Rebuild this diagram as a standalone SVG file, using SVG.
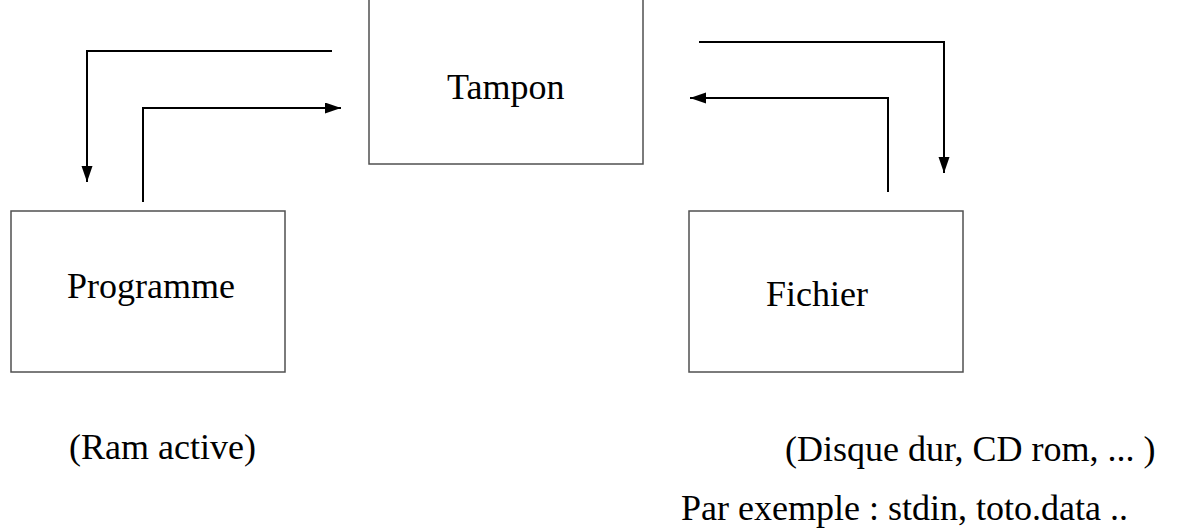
<svg xmlns="http://www.w3.org/2000/svg" width="1183" height="528" viewBox="0 0 1183 528">
  <style>
    .box { fill: #ffffff; stroke: #505050; stroke-width: 1.5; }
    .lbl { font-family: "Liberation Serif", "Times New Roman", serif; font-size: 36px; fill: #000000; }
    .conn { fill: none; stroke: #000000; stroke-width: 2; }
  </style>
  <defs>
    <marker id="arrow" markerUnits="userSpaceOnUse" markerWidth="17" markerHeight="12" refX="16" refY="5.5" orient="auto">
      <path d="M0,0 L16,5.5 L0,11 Z" fill="#000000"/>
    </marker>
  </defs>
  <rect width="1183" height="528" fill="#ffffff"/>
  <g id="tampon">
    <rect class="box" x="369" y="-5" width="274" height="169"/>
    <text class="lbl" x="447" y="99">Tampon</text>
  </g>
  <g id="programme">
    <rect class="box" x="11" y="211" width="274" height="161"/>
    <text class="lbl" x="67" y="298">Programme</text>
  </g>
  <g id="fichier">
    <rect class="box" x="689" y="211" width="274" height="161"/>
    <text class="lbl" x="766" y="306">Fichier</text>
  </g>
  <g id="labels">
    <text class="lbl" x="69" y="459">(Ram active)</text>
    <text class="lbl" x="785" y="461">(Disque dur, CD rom, ... )</text>
    <text class="lbl" x="681" y="520">Par exemple : stdin, toto.data ..</text>
  </g>
  <g id="connectors">
    <path class="conn" d="M332,51 H87 V182" marker-end="url(#arrow)"/>
    <path class="conn" d="M143,202 V108 H341" marker-end="url(#arrow)"/>
    <path class="conn" d="M699,42 H944 V173" marker-end="url(#arrow)"/>
    <path class="conn" d="M888,192 V98 H690" marker-end="url(#arrow)"/>
  </g>
</svg>
